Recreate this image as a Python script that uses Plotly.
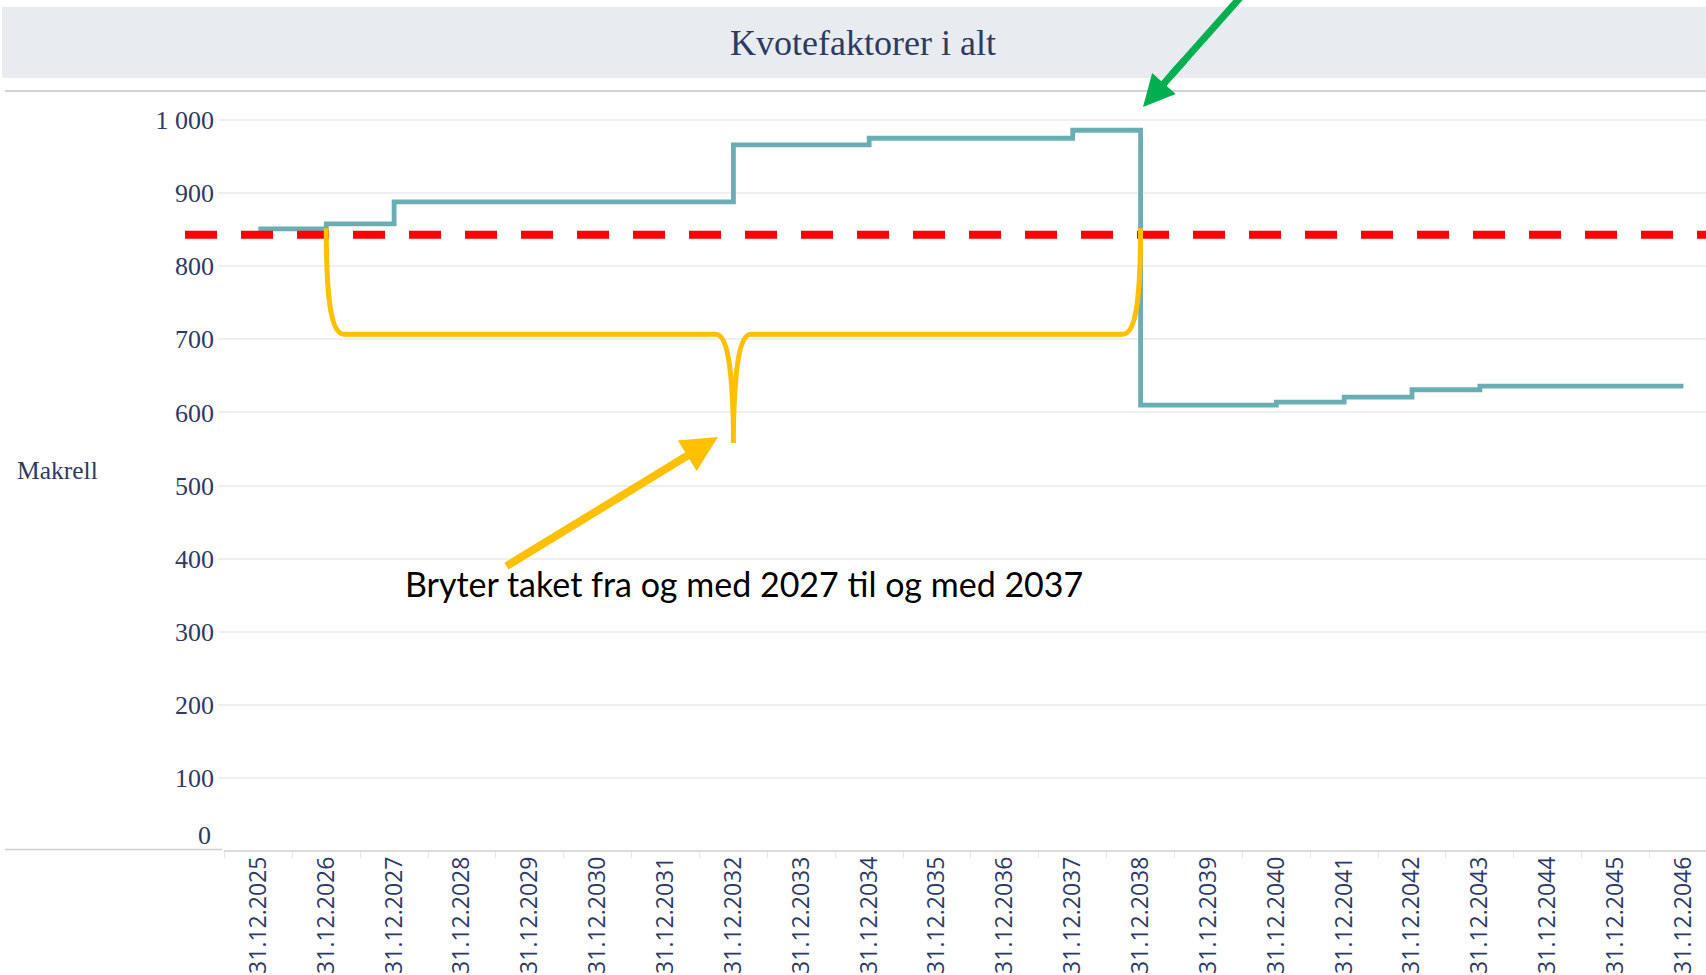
import plotly.graph_objects as go

# ---------------- data ----------------
years = [str(y) for y in range(2025, 2047)]
categories = ["31.12." + y for y in years]
kvotefaktorer = [851, 858, 888, 888, 888, 888, 888, 966, 966, 975, 975, 975, 986,
                 610, 610, 614, 621, 631, 636, 636, 636, 636]
tak = 843
y_tickvals = [100, 200, 300, 400, 500, 600, 700, 800, 900, 1000]
y_ticktext = ["100", "200", "300", "400", "500", "600", "700", "800", "900", "1 000"]
title_text = "Kvotefaktorer i alt"
row_label = "Makrell"
note_text = "Bryter taket fra og med 2027 til og med 2037"

# ---------------- layout geometry (screen pixels) ----------------
OFF = 0                     # page body margin removed via post_script
W, H = 1706 - OFF, 975 - OFF
PL, PR = 218, 1706          # plot left / right (screen)
PT, PB = 95, 851            # plot top / bottom (screen)
step = 67.86
c0 = 258.4                  # centre of first category (screen)
x_lo = -(c0 - PL) / step
x_hi = (PR - c0) / step
px_per_unit = 0.731
y_hi = (PB - PT) / px_per_unit


def px_x(p):
    return (p - PL) / (PR - PL)


def px_y(p):
    return (PB - p) / (PB - PT)


def idx_x(p):
    return (p - c0) / step


def val_y(p):
    return (PB - p) / px_per_unit


TEAL = "#6aadb3"
YEL = "#ffc000"
GREEN = "#00b050"
NAVY = "#2d3a64"

fig = go.Figure()
fig.add_trace(go.Scatter(
    x=categories, y=kvotefaktorer, mode="lines", line_shape="hv",
    line=dict(color=TEAL, width=4.8), showlegend=False, hoverinfo="x+y",
))

shapes = []
# title bar
shapes.append(dict(type="rect", xref="paper", yref="paper",
                   x0=px_x(2), x1=1.0, y0=px_y(78), y1=px_y(7),
                   fillcolor="#e8ebf0", line=dict(width=0), layer="below"))
# divider lines
shapes.append(dict(type="line", xref="paper", yref="paper",
                   x0=px_x(5), x1=1.0, y0=px_y(91), y1=px_y(91),
                   line=dict(color="#d2d2d2", width=2)))
shapes.append(dict(type="line", xref="paper", yref="paper",
                   x0=px_x(5), x1=px_x(222), y0=px_y(849.5), y1=px_y(849.5),
                   line=dict(color="#cfcfcf", width=1.5)))
shapes.append(dict(type="line", xref="paper", yref="paper",
                   x0=px_x(224), x1=1.0, y0=px_y(851), y1=px_y(851),
                   line=dict(color="#cfcfcf", width=1.5)))
# red dashed ceiling
shapes.append(dict(type="line", xref="paper", yref="y",
                   x0=px_x(185), x1=1.0, y0=tak, y1=tak,
                   line=dict(color="#ff0000", width=8, dash="32px,24px")))
# yellow curly brace (x in category index, y in value units)
xa, xm, xb = 1.0, 7.0, 13.0
yt, yh, ys = 852, 707, 558
brace = (
    f"M {xa},{yt} C {xa},{yh+60} {xa+0.05},{yh} {xa+0.26},{yh} "
    f"L {xm-0.26},{yh} C {xm-0.1},{yh} {xm-0.02},{yh-40} {xm},{ys+20} "
    f"L {xm},{ys} M {xm},{ys+20} "
    f"C {xm+0.02},{yh-40} {xm+0.1},{yh} {xm+0.26},{yh} "
    f"L {xb-0.26},{yh} C {xb-0.05},{yh} {xb},{yh+60} {xb},{yt}"
)
shapes.append(dict(type="path", xref="x", yref="y", path=brace,
                   line=dict(color=YEL, width=5)))
# green arrow shaft (runs off the top edge)
gtip = (1143, 107)
gdir = (95, -107)
shapes.append(dict(type="line", xref="paper", yref="paper",
                   x0=px_x(gtip[0] + 0.3 * gdir[0]), y0=px_y(gtip[1] + 0.3 * gdir[1]),
                   x1=px_x(gtip[0] + 1.2 * gdir[0]), y1=px_y(gtip[1] + 1.2 * gdir[1]),
                   line=dict(color=GREEN, width=7)))

annotations = [
    dict(text=title_text, xref="paper", yref="paper", x=px_x(863), y=px_y(42.5),
         showarrow=False, xanchor="center", yanchor="middle",
         font=dict(family="Liberation Serif", size=36, color=NAVY)),
    dict(text=row_label, xref="paper", yref="paper", x=px_x(15), y=px_y(470),
         showarrow=False, xanchor="left", yanchor="middle",
         font=dict(family="Liberation Serif", size=25.5, color=NAVY)),
    dict(text="0", xref="paper", yref="y", x=px_x(213), y=0, yshift=16,
         showarrow=False, xanchor="right", yanchor="middle",
         font=dict(family="Liberation Serif", size=26, color=NAVY)),
    dict(text=note_text, xref="x", yref="y", x=idx_x(403), y=val_y(583),
         showarrow=False, xanchor="left", yanchor="middle",
         font=dict(family="Lato", size=34, color="#000000")),
    # yellow arrow
    dict(text="", xref="x", yref="y", x=idx_x(718), y=val_y(437),
         axref="pixel", ayref="pixel", ax=505 - 718, ay=567 - 437,
         showarrow=True, arrowhead=2, arrowsize=0.9, arrowwidth=8,
         arrowcolor=YEL, standoff=0, startstandoff=0),
    # green arrow head
    dict(text="", xref="paper", yref="paper", x=px_x(gtip[0]), y=px_y(gtip[1]),
         axref="pixel", ayref="pixel", ax=0.45 * gdir[0], ay=0.45 * gdir[1],
         showarrow=True, arrowhead=2, arrowsize=0.9, arrowwidth=7,
         arrowcolor=GREEN, standoff=0, startstandoff=0),
]

fig.update_layout(
    width=W, height=H,
    margin=dict(l=PL - OFF, r=W + OFF - PR, t=PT - OFF, b=H + OFF - PB,
                autoexpand=False),
    paper_bgcolor="white", plot_bgcolor="white",
    showlegend=False,
    shapes=shapes, annotations=annotations,
    xaxis=dict(type="category", range=[x_lo, x_hi], showgrid=False,
               showline=False, zeroline=False, ticks="outside",
               tickson="boundaries", ticklen=6, tickcolor="#e6e6e6",
               tickwidth=1, tickangle=-90, automargin=False,
               tickfont=dict(family="Open Sans", size=23, color=NAVY)),
    yaxis=dict(range=[0, y_hi], tickvals=y_tickvals, ticktext=y_ticktext,
               showgrid=True, gridcolor="#efefef", gridwidth=1.5,
               zeroline=False, showline=False, ticks="", automargin=False,
               ticklabelstandoff=3,
               tickfont=dict(family="Liberation Serif", size=26, color=NAVY)),
)

fig.write_html(
    "out.html",
    config={"displayModeBar": False},
    post_script="document.body.style.margin='0px';document.body.style.overflow='hidden';",
)
